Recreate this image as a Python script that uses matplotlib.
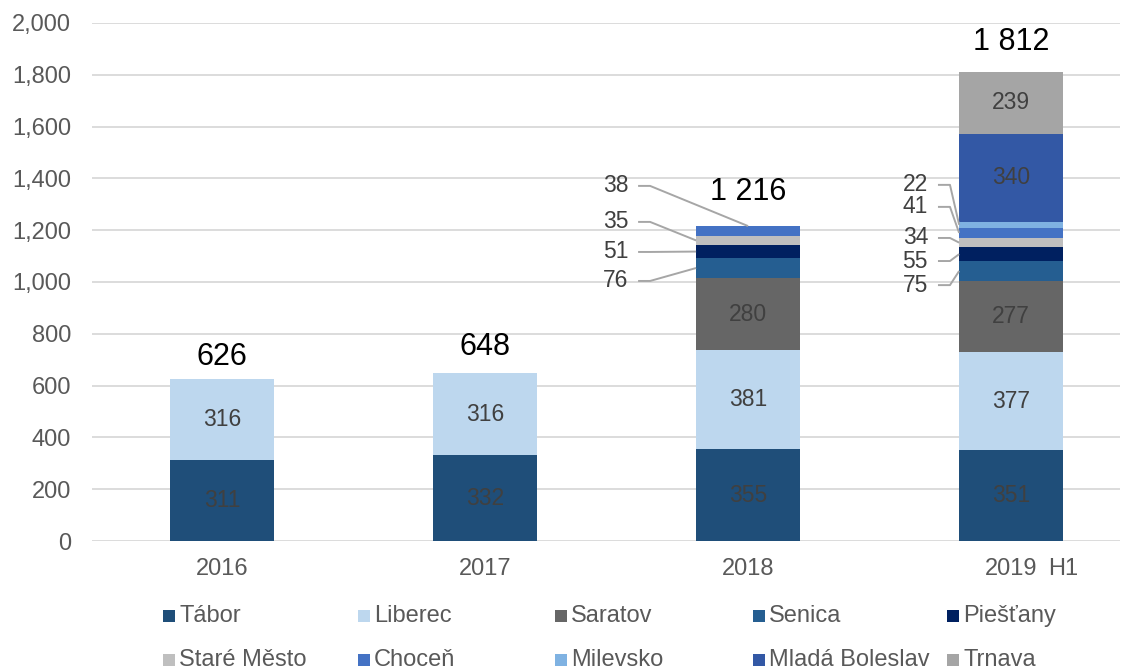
import matplotlib
matplotlib.use("Agg")
import matplotlib.pyplot as plt
from matplotlib.patches import Rectangle
from matplotlib.ticker import FuncFormatter
from matplotlib.transforms import offset_copy
import numpy as np

plt.rcParams['font.family'] = ['Liberation Sans', 'DejaVu Sans']

# ---- data ----
categories = ["2016", "2017", "2018", "2019"]
category_suffix = "H1"   # shown after the last category label
series_names = ["Tábor", "Liberec", "Saratov", "Senica", "Piešťany",
                "Staré Město", "Choceň", "Milevsko", "Mladá Boleslav", "Trnava"]
tabor      = [311, 332, 355, 351]
liberec    = [316, 316, 381, 377]
saratov    = [0, 0, 280, 277]
senica     = [0, 0, 76, 75]
piestany   = [0, 0, 51, 55]
stare_mesto = [0, 0, 35, 34]
chocen     = [0, 0, 38, 41]
milevsko   = [0, 0, 0, 22]
mlada_boleslav = [0, 0, 0, 340]
trnava     = [0, 0, 0, 239]
totals_text = ["626", "648", "1 216", "1 812"]

series_values = [tabor, liberec, saratov, senica, piestany,
                 stare_mesto, chocen, milevsko, mlada_boleslav, trnava]
colors = ["#1F4E79", "#BDD7EE", "#666666", "#255E91", "#002060",
          "#BFBFBF", "#4472C4", "#7FB2E2", "#3358A5", "#A5A5A5"]
inside_labels = {0, 1, 2, 8, 9}   # series labelled inside the bar

# ---- figure ----
fig = plt.figure(figsize=(11.31, 6.69), dpi=100)
W, H = 1131, 669
ax = fig.add_axes([92 / W, 1 - 541 / H, (1120 - 92) / W, (541 - 23) / H])

x = np.arange(len(categories))
bar_w = 0.395
bottoms = np.zeros(len(categories))
seg_info = []  # (series idx, cat idx, bottom, value)
for si, vals in enumerate(series_values):
    vals = np.array(vals, dtype=float)
    ax.bar(x, vals, bar_w, bottom=bottoms, color=colors[si], zorder=3,
           linewidth=0)
    for ci, v in enumerate(vals):
        if v > 0:
            seg_info.append((si, ci, bottoms[ci], v))
    bottoms = bottoms + vals

TICK_FS = 17
XPAD = 12.5
ax.set_xlim(-0.494, 3.414)
ax.set_ylim(0, 2000)
ax.set_yticks(np.arange(0, 2001, 200))
ax.yaxis.set_major_formatter(FuncFormatter(lambda v, p: f"{int(v):,}"))
ax.grid(axis='y', color='#D9D9D9', linewidth=1.3, zorder=0)
for s in ax.spines.values():
    s.set_visible(False)
ax.tick_params(axis='both', length=0, labelsize=TICK_FS, colors='#595959')
ax.tick_params(axis='y', pad=15)
ax.tick_params(axis='x', pad=XPAD)
ax.set_xticks(x)
ax.set_xticklabels(categories)
ax.text(x[-1] + 37 / 263, 0, category_suffix,
        transform=offset_copy(ax.get_xaxis_transform(), fig=fig, y=-XPAD, units='points'),
        ha='left', va='top', fontsize=TICK_FS, color='#595959')

# segment labels inside
SEG_FS = 16.5
for si, ci, b, v in seg_info:
    if si in inside_labels:
        ax.text(ci, b + v / 2, f"{int(v)}", ha='center', va='center',
                fontsize=SEG_FS, color='#404040', zorder=5)

# totals
total_offsets = [7, 11, 19, 15]  # pixels
for ci in range(len(categories)):
    ax.annotate(totals_text[ci], (ci, bottoms[ci]), xytext=(0, total_offsets[ci] * 0.72),
                textcoords='offset points', ha='center', va='bottom',
                fontsize=22, color='black')

# leader-line labels for small segments
# layout: label y-positions (data units) and x-position of label right edge
leader_layout = {
    2: {"x": 1.544, "ys": {3: 1004, 4: 1116, 5: 1232, 6: 1371}},
    3: {"x": 2.684, "ys": {3: 988, 4: 1081, 5: 1170, 6: 1290, 7: 1375}},
}
for si, ci, b, v in seg_info:
    if si in inside_labels:
        continue
    lay = leader_layout[ci]
    ly = lay["ys"][si]
    lx = lay["x"]
    ax.text(lx, ly, f"{int(v)}", ha='right', va='center', fontsize=SEG_FS,
            color='#404040', zorder=5)
    x0 = lx + 10 / 263
    x1 = x0 + 12 / 263
    if ci == 2 and si == 6:
        tx, ty = ci, b + v  # top-center for the top segment
    else:
        tx, ty = ci - bar_w / 2, b + v / 2
    ax.plot([x0, x1, tx], [ly, ly, ty], color='#A6A6A6', lw=1.4,
            zorder=4, solid_capstyle='butt', clip_on=False)

# legend (manual layout)
col_x = [163, 358, 555, 753, 947]
row_y = [616, 660]
for i, name in enumerate(series_names):
    c, r = i % 5, i // 5
    px, py = col_x[c], row_y[r]
    fig.patches.append(Rectangle((px / W, 1 - (py + 6) / H), 12 / W, 12 / H,
                                 transform=fig.transFigure, facecolor=colors[i],
                                 edgecolor='none'))
    fig.text((px + 16) / W, 1 - py / H, name, ha='left', va='center',
             fontsize=TICK_FS, color='#595959')

fig.savefig("out.png", dpi=100)
